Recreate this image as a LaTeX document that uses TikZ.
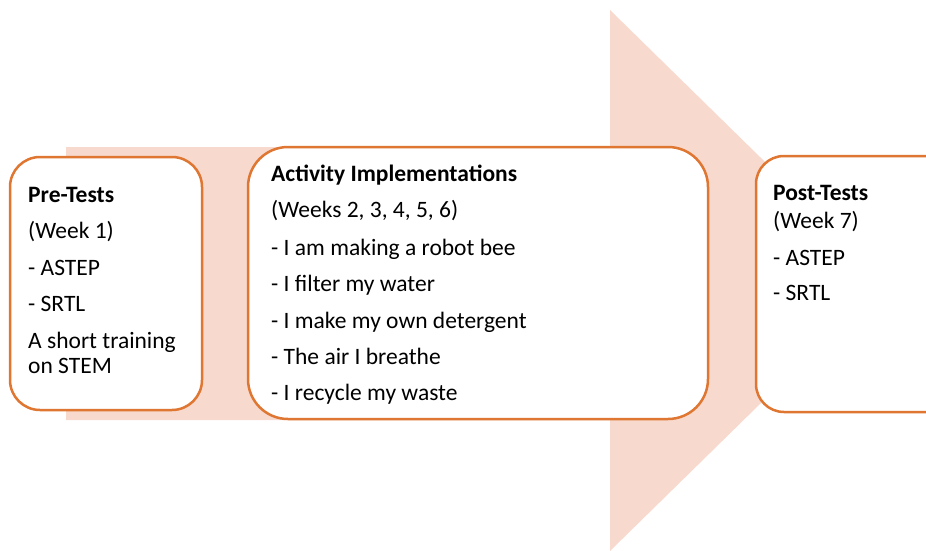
\documentclass[tikz,border=0pt]{standalone}
\usepackage{fontspec}
\setmainfont{Carlito}
\definecolor{arrowfill}{HTML}{F8D9CE}
\definecolor{boxline}{HTML}{DF7631}
\begin{document}
\begin{tikzpicture}[x=1pt,y=-1pt,
  card/.style={draw=boxline,line width=2.5pt,fill=white},
  txt/.style={anchor=base west,inner sep=0pt,font=\fontsize{23.5}{28}\selectfont},
  hd/.style={txt,font=\fontsize{23.5}{28}\selectfont\bfseries}]
\useasboundingbox (0,0) rectangle (926,551);
\begin{scope}
\clip (0,0) rectangle (926,551);
% big arrow
\fill[arrowfill] (66,147) -- (610,147) -- (610,10) -- (886,280.5) -- (610,551) -- (610,420) -- (66,420) -- cycle;
% boxes
\draw[card,rounded corners=30pt] (10,157) rectangle (202,410);
\draw[card,rounded corners=40pt] (248,147) rectangle (708,419);
\draw[card,rounded corners=28pt] (756,156) rectangle (960,412);
\end{scope}
% Pre-Tests
\node[hd] (p1) at (28,202) {Pre-Tests};
\node[txt] (p2) at (28,238) {(Week 1)};
\node[txt] (p3) at (28,275) {- ASTEP};
\node[txt] (p4) at (28,311) {- SRTL};
\node[txt] (p5) at (28,348) {A short training};
\node[txt] (p6) at (28,373) {on STEM};
% Activity
\node[hd] (a1) at (271,181) {Activity Implementations};
\node[txt] (a2) at (271,217) {(Weeks 2, 3, 4, 5, 6)};
\node[txt] (a3) at (271,255) {- I am making a robot bee};
\node[txt] (a4) at (271,291) {- I filter my water};
\node[txt] (a5) at (271,328) {- I make my own detergent};
\node[txt] (a6) at (271,364) {- The air I breathe};
\node[txt] (a7) at (271,400.5) {- I recycle my waste};
% Post
\node[hd] (q1) at (773,200) {Post-Tests};
\node[txt] (q2) at (773,228) {(Week 7)};
\node[txt] (q3) at (773,265) {- ASTEP};
\node[txt] (q4) at (773,300) {- SRTL};
\end{tikzpicture}
\end{document}
